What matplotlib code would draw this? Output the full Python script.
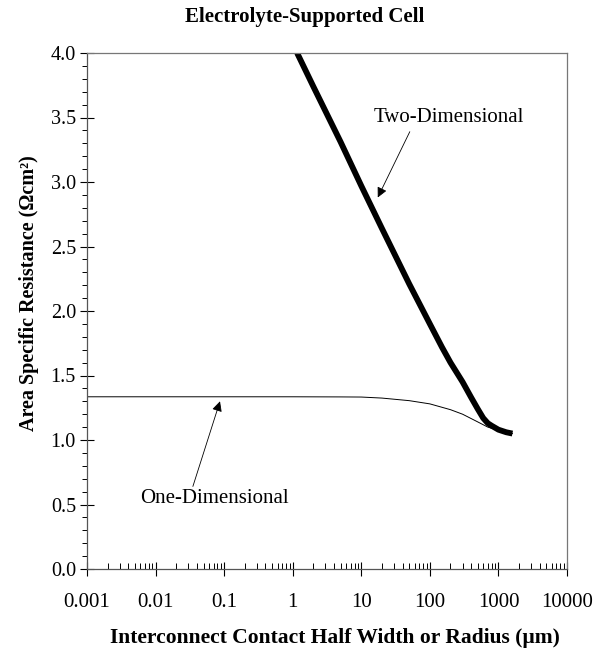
import matplotlib
matplotlib.use("Agg")
import matplotlib.pyplot as plt
from matplotlib.ticker import LogLocator, MultipleLocator, FixedFormatter, FixedLocator, NullFormatter
import numpy as np

# data
x_two = [1.16, 2, 5, 10, 20, 50, 100, 150, 200, 300, 400, 500, 600, 700, 800, 1000, 1300, 1600]
y_two = [4.00, 3.74, 3.31, 2.97, 2.64, 2.21, 1.90, 1.72, 1.60, 1.45, 1.33, 1.24, 1.17, 1.13, 1.11, 1.08, 1.06, 1.05]

x_one = [0.001, 0.01, 0.1, 1, 5, 10, 20, 50, 100, 200, 300, 500, 700, 1000, 1600]
y_one = [1.335, 1.335, 1.335, 1.335, 1.334, 1.333, 1.325, 1.305, 1.28, 1.235, 1.20, 1.14, 1.10, 1.075, 1.05]

xticks = [0.001, 0.01, 0.1, 1, 10, 100, 1000, 10000]
xticklabels = ["0.001", "0.01", "0.1", "1", "10", "100", "1000", "10000"]

plt.rcParams['font.family'] = ['Liberation Serif', 'DejaVu Serif']

fig = plt.figure(figsize=(6.07, 6.54), dpi=100)
ax = fig.add_axes([87/607, 1-569/654, 480/607, 516/654])

ax.plot(x_one, y_one, color='black', lw=0.7)
ax.plot(x_two, y_two, color='black', lw=4.2, solid_capstyle='butt')

ax.set_xscale('log')
ax.set_xlim(0.001, 10000)
ax.set_ylim(0, 4.0)

ax.xaxis.set_major_locator(FixedLocator(xticks))
ax.xaxis.set_major_formatter(FixedFormatter(xticklabels))
ax.xaxis.set_minor_locator(LogLocator(base=10, subs=np.arange(2, 10), numticks=20))
ax.xaxis.set_minor_formatter(NullFormatter())
ax.yaxis.set_major_locator(MultipleLocator(0.5))
ax.yaxis.set_minor_locator(MultipleLocator(0.1))
ax.yaxis.set_major_formatter(matplotlib.ticker.FormatStrFormatter('%.1f'))

ax.tick_params(axis='x', which='major', direction='inout', length=10, width=0.8, pad=12, labelsize=15, top=False)
ax.tick_params(axis='x', which='minor', direction='in', length=4, width=0.7, top=False)
ax.tick_params(axis='y', which='major', direction='inout', length=10, width=0.8, pad=3, labelsize=14.5, right=False)
ax.tick_params(axis='y', which='minor', direction='out', length=3.5, width=0.7, right=False)

for s in ['left', 'bottom']:
    ax.spines[s].set_color('#555555')
    ax.spines[s].set_linewidth(0.9)
for s in ['top', 'right']:
    ax.spines[s].set_color('#777777')
    ax.spines[s].set_linewidth(0.9)

# labels and arrows
ax.text(186, 3.50, 'Two-Dimensional', ha='center', va='center', fontsize=15)
ax.annotate('', xy=(17.4, 2.88), xytext=(51, 3.39),
            arrowprops=dict(arrowstyle='-|>', color='black', lw=0.6,
                            mutation_scale=15, shrinkA=0, shrinkB=0))
ax.text(0.071, 0.55, 'One-Dimensional', ha='center', va='center', fontsize=15)
ax.annotate('', xy=(0.087, 1.30), xytext=(0.035, 0.64),
            arrowprops=dict(arrowstyle='-|>', color='black', lw=0.6,
                            mutation_scale=15, shrinkA=0, shrinkB=0))

fig.text(305/607, 1-17/654, 'Electrolyte-Supported Cell', ha='center', va='center',
         fontsize=15, fontweight='bold')
fig.text(335/607, 1-638/654, 'Interconnect Contact Half Width or Radius (\u00b5m)',
         ha='center', va='center', fontsize=15.5, fontweight='bold')
fig.text(29/607, 1-293/654, 'Area Specific Resistance (\u03a9cm\u00b2)', ha='center', va='center',
         rotation=90, fontsize=14.5, fontweight='bold')

fig.savefig('out.png', dpi=100)
